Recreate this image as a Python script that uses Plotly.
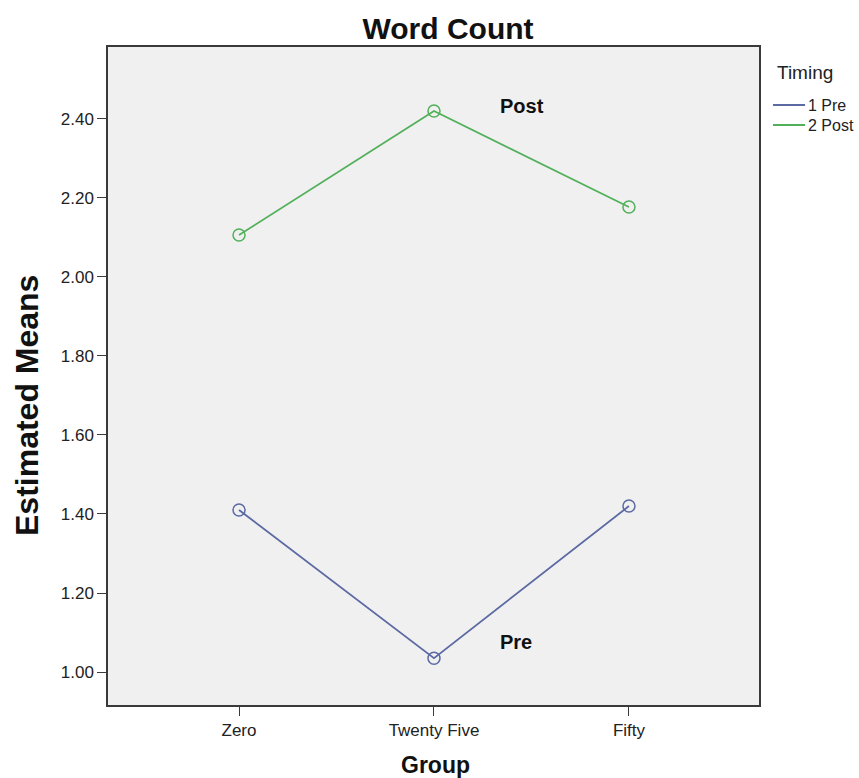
import plotly.graph_objects as go

# Estimated marginal means of word count by group and timing
groups = ["Zero", "Twenty Five", "Fifty"]
pre_means = [1.410, 1.035, 1.420]
post_means = [2.106, 2.420, 2.177]
y_ticks = [1.00, 1.20, 1.40, 1.60, 1.80, 2.00, 2.20, 2.40]
series = [("1 Pre", pre_means, "#5B6AA3"), ("2 Post", post_means, "#52B05A")]

FONT = "Liberation Sans, Arial, sans-serif"
W, H = 859, 778
L, R, T, B = 108, 100, 47, 73
PW, PH = W - L - R, H - T - B


def px(x):
    """Horizontal pixel -> paper coordinate."""
    return (x - L) / PW


def py(y):
    """Vertical pixel (from top) -> paper coordinate."""
    return (H - B - y) / PH


idx = list(range(len(groups)))

fig = go.Figure()
for name, vals, color in series:
    fig.add_trace(go.Scatter(
        x=idx, y=vals, mode="lines+markers", name=name, showlegend=False,
        line=dict(color=color, width=1.8),
        marker=dict(symbol="circle-open", size=12, color=color, line=dict(width=1.5)),
    ))

# series labels next to the peak / trough
fig.add_annotation(x=1.45, y=2.432, text="<b>Post</b>", showarrow=False,
                   font=dict(family=FONT, size=20, color="#111"))
fig.add_annotation(x=1.42, y=1.077, text="<b>Pre</b>", showarrow=False,
                   font=dict(family=FONT, size=20, color="#111"))

# axis titles
fig.add_annotation(xref="paper", yref="paper", x=px(27), y=py(406),
                   text="<b>Estimated Means</b>", textangle=-90, showarrow=False,
                   xanchor="center", yanchor="middle",
                   font=dict(family=FONT, size=32, color="#111"))
fig.add_annotation(xref="paper", yref="paper", x=px(435), y=py(765),
                   text="<b>Group</b>", showarrow=False,
                   xanchor="center", yanchor="middle",
                   font=dict(family=FONT, size=23, color="#111"))

# legend: title plus short line keys
fig.add_annotation(xref="paper", yref="paper", x=px(775), y=py(73), text="Timing",
                   showarrow=False, xanchor="left", yanchor="middle",
                   font=dict(family=FONT, size=19, color="#222"))
for i, (name, _, color) in enumerate(series):
    yk = 105 + 20 * i
    fig.add_shape(type="line", xref="paper", yref="paper",
                  x0=px(773), x1=px(805), y0=py(yk), y1=py(yk),
                  line=dict(color=color, width=2))
    fig.add_annotation(xref="paper", yref="paper", x=px(806), y=py(yk), text=name,
                       showarrow=False, xanchor="left", yanchor="middle",
                       font=dict(family=FONT, size=16, color="#222"))

axis_common = dict(showline=True, linecolor="#3a3a3a", linewidth=1.5, mirror=True,
                   showgrid=False, zeroline=False, ticks="outside", ticklen=9,
                   automargin=False,
                   tickcolor="#3a3a3a", tickfont=dict(family=FONT, size=17, color="#222"))

fig.update_layout(
    width=W, height=H,
    margin=dict(l=L, r=R, t=T, b=B, autoexpand=False),
    paper_bgcolor="white",
    plot_bgcolor="#F0F0F0",
    font=dict(family=FONT),
    showlegend=False,
    title=dict(text="<b>Word Count</b>", x=448 / W, xanchor="center",
               y=1 - 28 / H, yanchor="middle",
               font=dict(family=FONT, size=30, color="#111")),
    xaxis=dict(**axis_common, tickmode="array", tickvals=idx, ticktext=groups,
               range=[-0.672, 2.667]),
    yaxis=dict(**axis_common, tickmode="array", tickvals=y_ticks,
               ticktext=[f"{v:.2f}" for v in y_ticks], range=[0.9165, 2.582]),
)

fig.write_html("out.html")
